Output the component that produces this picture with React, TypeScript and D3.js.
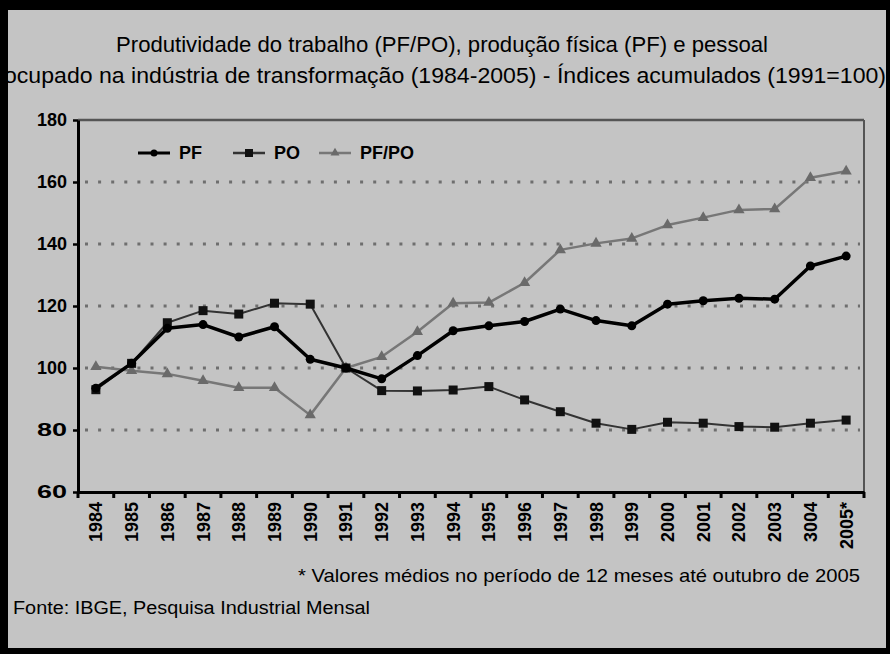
import React, { useEffect, useRef } from "react";
import * as d3 from "d3";

const years = ["1984", "1985", "1986", "1987", "1988", "1989", "1990", "1991", "1992", "1993", "1994",
  "1995", "1996", "1997", "1998", "1999", "2000", "2001", "2002", "2003", "3004", "2005*"];
const pf = [93.5, 101.5, 112.8, 114, 110, 113.3, 102.8, 100, 96.5, 104, 112, 113.6, 115, 119, 115.3,
  113.6, 120.6, 121.7, 122.5, 122.2, 132.9, 136.1];
const po = [93, 101.5, 114.6, 118.5, 117.4, 120.9, 120.6, 100, 92.7, 92.6, 92.9, 94, 89.7, 85.9, 82.2,
  80.2, 82.5, 82.2, 81.1, 80.9, 82.2, 83.2];
const pfpo = [100.4, 99.1, 98.1, 95.9, 93.6, 93.6, 84.8, 100, 103.6, 111.7, 120.9, 121.1, 127.5, 138.1,
  140.2, 141.8, 146.1, 148.5, 151, 151.3, 161.4, 163.5];
const yTicks = [60, 80, 100, 120, 140, 160, 180];
const gridTicks = [80, 100, 120, 140, 160];

const FONT = "'Liberation Sans Narrow', 'Liberation Sans', Arial, sans-serif";

const App = () => {
  const svgRef = useRef<SVGSVGElement>(null);

  useEffect(() => {
    const width = 890;
    const height = 654;
    const margin = { top: 120, right: 26, bottom: 162, left: 78 };

    const svg = d3.select(svgRef.current);
    svg.selectAll("*").remove();

    // frame + background
    svg.append("rect").attr("width", width).attr("height", height).attr("fill", "#000");
    svg.append("rect").attr("x", 8).attr("y", 10).attr("width", 878).attr("height", 638).attr("fill", "#c4c4c4");

    const x = d3.scaleBand().domain(years).range([margin.left, width - margin.right]);
    const y = d3.scaleLinear().domain([60, 180]).range([height - margin.bottom, margin.top]);

    // title
    const title = svg.append("g").attr("font-family", FONT).attr("font-size", 22).attr("fill", "#000");
    title.append("text").attr("x", 442).attr("y", 52).attr("text-anchor", "middle")
      .attr("textLength", 652).attr("lengthAdjust", "spacingAndGlyphs")
      .text("Produtividade do trabalho (PF/PO), produção física (PF) e pessoal");
    title.append("text").attr("x", 445).attr("y", 83).attr("text-anchor", "middle")
      .attr("textLength", 882).attr("lengthAdjust", "spacingAndGlyphs")
      .text("ocupado na indústria de transformação (1984-2005) - Índices acumulados (1991=100)");

    // gridlines
    svg.append("g").selectAll("line").data(gridTicks).enter().append("line")
      .attr("x1", margin.left + 7).attr("x2", width - margin.right - 4)
      .attr("y1", d => y(d)).attr("y2", d => y(d))
      .attr("stroke", "#6e6e6e").attr("stroke-width", 3).attr("stroke-dasharray", "3,10.1");

    // top and right frame lines
    svg.append("line").attr("x1", margin.left).attr("x2", width - margin.right)
      .attr("y1", y(180)).attr("y2", y(180)).attr("stroke", "#555").attr("stroke-width", 2.5);
    svg.append("line").attr("x1", width - margin.right).attr("x2", width - margin.right)
      .attr("y1", y(180)).attr("y2", y(60)).attr("stroke", "#555").attr("stroke-width", 2);

    // y axis
    const yAxis = svg.append("g")
      .attr("transform", `translate(${margin.left},0)`)
      .call(d3.axisLeft(y).tickValues(yTicks).tickSize(5).tickPadding(6).tickSizeOuter(0));
    yAxis.select(".domain").attr("stroke", "#000").attr("stroke-width", 3);
    yAxis.selectAll(".tick line").attr("stroke", "#000").attr("stroke-width", 2.5);
    yAxis.selectAll("text").attr("font-family", FONT).attr("font-weight", "bold")
      .attr("font-size", 18).attr("fill", "#000").attr("textLength", 30).attr("lengthAdjust", "spacingAndGlyphs");

    // x axis (ticks at band edges)
    const xAxis = svg.append("g")
      .attr("transform", `translate(0,${y(60)})`)
      .call(d3.axisBottom(x).tickSize(0).tickPadding(10).tickSizeOuter(0));
    xAxis.select(".domain").attr("stroke", "#000").attr("stroke-width", 3);
    xAxis.selectAll("text")
      .attr("font-family", FONT).attr("font-weight", "bold").attr("font-size", 18).attr("fill", "#000")
      .attr("transform", "rotate(-90)")
      .attr("text-anchor", "end").attr("x", -10).attr("y", 0).attr("dy", "0.36em");
    const edges = years.map(d => x(d) as number).concat([width - margin.right]);
    xAxis.append("g").selectAll("line").data(edges).enter().append("line")
      .attr("x1", d => d).attr("x2", d => d).attr("y1", 0).attr("y2", 6)
      .attr("stroke", "#000").attr("stroke-width", 3);

    const cx = (i: number) => (x(years[i]) as number) + x.bandwidth() / 2;
    const line = d3.line<number>().x((_, i) => cx(i)).y(d => y(d));

    // PF/PO
    svg.append("path").datum(pfpo).attr("fill", "none").attr("stroke", "#777").attr("stroke-width", 2.5)
      .attr("stroke-linejoin", "round").attr("d", line);
    svg.append("g").selectAll("path").data(pfpo).enter().append("path")
      .attr("d", d3.symbol().type(d3.symbolTriangle).size(55))
      .attr("transform", (d, i) => `translate(${cx(i)},${y(d)})`).attr("fill", "#6a6a6a");

    // PO
    svg.append("path").datum(po).attr("fill", "none").attr("stroke", "#333").attr("stroke-width", 2)
      .attr("stroke-linejoin", "round").attr("d", line);
    svg.append("g").selectAll("rect").data(po).enter().append("rect")
      .attr("x", (d, i) => cx(i) - 4.5).attr("y", d => y(d) - 4.5)
      .attr("width", 9).attr("height", 9).attr("fill", "#111");

    // PF
    svg.append("path").datum(pf).attr("fill", "none").attr("stroke", "#000").attr("stroke-width", 3.5)
      .attr("stroke-linejoin", "round").attr("d", line);
    svg.append("g").selectAll("circle").data(pf).enter().append("circle")
      .attr("cx", (d, i) => cx(i)).attr("cy", d => y(d)).attr("r", 4.5).attr("fill", "#000");

    // legend
    const legend = svg.append("g").attr("transform", "translate(0,153)");
    const items = [
      { label: "PF", x0: 138, color: "#000", w: 3, mark: "circle" },
      { label: "PO", x0: 233, color: "#333", w: 2.5, mark: "square" },
      { label: "PF/PO", x0: 319, color: "#777", w: 2.5, mark: "triangle" },
    ];
    items.forEach(it => {
      legend.append("line").attr("x1", it.x0).attr("x2", it.x0 + 32).attr("y1", 0).attr("y2", 0)
        .attr("stroke", it.color).attr("stroke-width", it.w);
      if (it.mark === "circle") {
        legend.append("circle").attr("cx", it.x0 + 16).attr("cy", 0).attr("r", 3.5).attr("fill", "#000");
      } else if (it.mark === "square") {
        legend.append("rect").attr("x", it.x0 + 12).attr("y", -4).attr("width", 8).attr("height", 8).attr("fill", "#111");
      } else {
        legend.append("path").attr("d", d3.symbol().type(d3.symbolTriangle).size(35))
          .attr("transform", `translate(${it.x0 + 16},0)`).attr("fill", "#6a6a6a");
      }
      legend.append("text").attr("x", it.x0 + 41).attr("y", 0).attr("dy", "0.36em")
        .attr("font-family", FONT).attr("font-weight", "bold").attr("font-size", 18).attr("fill", "#000")
        .text(it.label);
    });

    // notes
    svg.append("text").attr("x", 860).attr("y", 582).attr("text-anchor", "end")
      .attr("font-family", FONT).attr("font-size", 19).attr("fill", "#000")
      .attr("textLength", 562).attr("lengthAdjust", "spacingAndGlyphs")
      .text("* Valores médios no período de 12 meses até outubro de 2005");
    svg.append("text").attr("x", 13).attr("y", 614)
      .attr("font-family", FONT).attr("font-size", 18).attr("fill", "#000")
      .attr("textLength", 357).attr("lengthAdjust", "spacingAndGlyphs")
      .text("Fonte: IBGE, Pesquisa Industrial Mensal");
  }, []);

  return (
    <svg ref={svgRef} width={890} height={654}
      style={{ position: "absolute", left: 0, top: 0, display: "block" }} />
  );
};

export default App;
